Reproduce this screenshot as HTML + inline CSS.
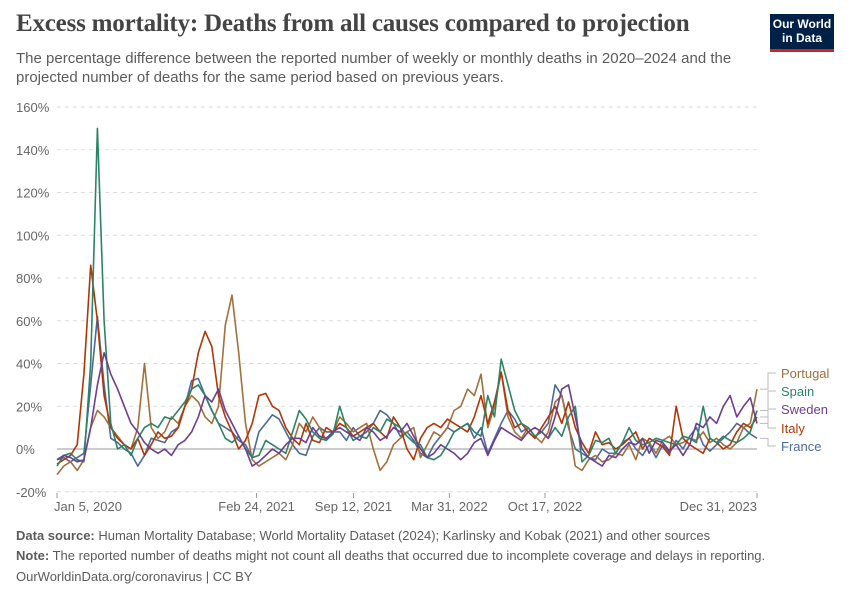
<!DOCTYPE html>
<html><head><meta charset="utf-8"><style>
body{margin:0;background:#fff;font-family:"Liberation Sans",sans-serif;}
#wrap{position:relative;width:850px;height:600px;overflow:hidden;}
</style></head><body>
<div id="wrap">
<div style="position:absolute;left:16px;top:10px;font-family:'Liberation Serif',serif;font-size:25px;color:#444;font-weight:bold;letter-spacing:-0.2px">Excess mortality: Deaths from all causes compared to projection</div>
<div style="position:absolute;left:16px;top:49px;width:740px;font-size:15px;line-height:19px;color:#5b5b5b">The percentage difference between the reported number of weekly or monthly deaths in 2020–2024 and the projected number of deaths for the same period based on previous years.</div>
<div style="position:absolute;left:770px;top:14px;width:64px;height:38px;background:#002147;border-bottom:3px solid #ce261e;color:#fff;font-size:12px;line-height:14px;text-align:center;padding-top:3px;box-sizing:border-box;font-weight:bold">Our World<br>in Data</div>
<svg id="chart" width="850" height="600" style="position:absolute;left:0;top:0"></svg>
<div style="position:absolute;left:16px;top:528px;font-size:13px;color:#5b5b5b"><b>Data source:</b> Human Mortality Database; World Mortality Dataset (2024); Karlinsky and Kobak (2021) and other sources</div>
<div style="position:absolute;left:16px;top:548px;font-size:13px;color:#5b5b5b"><b>Note:</b> The reported number of deaths might not count all deaths that occurred due to incomplete coverage and delays in reporting.</div>
<div style="position:absolute;left:16px;top:569px;font-size:13px;color:#5b5b5b">OurWorldinData.org/coronavirus | CC BY</div>
</div>
<script>
const yTicks=[-20,0,20,40,60,80,100,120,140,160];
const xTickLabels=["Jan 5, 2020","Feb 24, 2021","Sep 12, 2021","Mar 31, 2022","Oct 17, 2022","Dec 31, 2023"];
const xTickWeeks=[0,59.3,88.1,116.6,145.0,208];
const seriesNames=["Portugal","Spain","Sweden","Italy","France"];
const portugal=[-12,-8,-6,-10,-5,10,18,15,10,6,2,0,10,40,10,5,8,15,12,20,25,22,15,12,20,58,72,45,12,-5,-8,-6,-4,-2,-5,2,12,8,15,10,4,8,15,12,8,10,12,0,-10,-6,2,5,8,10,-4,2,8,6,10,18,20,28,25,35,10,20,36,15,8,5,10,6,3,8,22,25,12,-8,-10,-5,-3,-6,-5,-2,-3,2,-5,5,3,-2,4,6,2,3,5,4,8,3,5,2,0,3,10,12,28];
const spain=[-8,-3,-2,-5,-6,40,150,60,12,0,2,-3,5,10,12,10,15,14,18,22,28,30,25,18,12,5,3,6,0,-4,-3,4,2,0,-2,8,18,14,8,5,4,7,20,10,4,6,5,10,8,14,12,10,6,3,2,-4,-5,-3,2,8,10,12,8,6,25,15,42,30,18,12,10,6,8,5,10,6,15,20,-6,-3,4,3,5,-2,3,10,4,2,3,5,4,3,2,6,5,3,20,5,3,6,4,3,5,8,18];
const sweden=[-5,-3,-4,-6,-5,10,30,45,35,28,20,12,8,3,0,-2,0,-3,2,4,8,15,25,22,28,18,12,6,0,-8,-6,-3,0,-2,2,5,5,3,10,6,5,8,10,8,6,4,10,8,4,6,10,8,12,6,0,-4,-2,2,0,-2,-5,-2,3,5,-3,4,10,8,6,4,8,10,8,5,15,28,30,15,0,-4,-6,-8,-3,-4,0,3,2,5,-2,4,3,-1,2,-3,2,12,10,15,12,20,25,15,20,24,12];
const italy=[-7,-5,-3,2,35,86,60,25,10,5,2,0,5,-3,2,8,5,6,10,20,28,45,55,48,25,15,8,0,4,12,25,26,20,18,10,5,2,12,4,3,10,8,12,10,6,8,10,12,8,5,15,10,0,-5,5,10,12,10,14,12,10,8,15,25,12,22,36,18,10,12,8,5,10,15,20,12,22,10,3,-2,8,2,3,0,2,5,8,0,5,3,1,-3,20,5,2,0,-2,5,3,0,2,8,12,10,15];
const france=[-5,-4,-6,-4,-2,30,62,30,5,3,0,-2,-8,-3,5,4,3,8,10,20,32,33,25,18,12,10,8,4,2,-4,8,12,16,14,8,2,-2,-3,6,10,8,8,8,4,10,6,8,12,18,16,12,6,8,4,-2,-4,2,6,10,8,10,12,5,10,-2,5,12,18,14,8,10,6,8,12,30,25,10,0,-2,-4,-5,0,-2,-2,3,5,0,-3,2,-4,2,-2,4,0,6,10,2,-1,2,5,8,12,10,7,5];
const seriesData=[portugal,spain,sweden,italy,france];
const colors=["#a2703c","#2b8465","#6d3e91","#b13507","#4c6a9c"];
const labelY=[377,395,413,432,450];

const NS="http://www.w3.org/2000/svg";
const svg=document.getElementById("chart");
const X0=57,X1=757,Y0=449,PER=42.75/20;
const yScale=v=>Y0-v*PER;
const xWeek=w=>X0+w*(X1-X0)/208;
function mk(t,a){const e=document.createElementNS(NS,t);for(const k in a)e.setAttribute(k,a[k]);svg.appendChild(e);return e;}
yTicks.forEach(t=>{
  const y=yScale(t);
  const l=mk("line",{x1:X0,x2:X1,y1:y,y2:y,stroke:t===0?"#999":"#ddd","stroke-dasharray":t===0?"":"4,4","stroke-width":1});
  
  
  const tx=mk("text",{x:16,y:y+5,"font-size":13,fill:"#666"});
  tx.textContent=t+"%";
  
  
});
xTickLabels.forEach((lab,i)=>{
  const x=xWeek(xTickWeeks[i]);
  const tk=mk("line",{x1:x,x2:x,y1:493,y2:498,stroke:"#999"});
  
  
  const tx=mk("text",{x:x,y:511,"font-size":13,fill:"#666","text-anchor":i===0?"start":(i===xTickLabels.length-1?"end":"middle")});
  if(i===0)tx.setAttribute("x",x-3);
  tx.textContent=lab;
  
  
});
const order=[4,0,3,1,2];
order.forEach(si=>{
  const d=seriesData[si];const n=d.length;
  const pts=d.map((v,i)=>xWeek(i*208/(n-1)).toFixed(1)+","+yScale(v).toFixed(1)).join(" ");
  const p=mk("polyline",{points:pts,fill:"none",stroke:colors[si],"stroke-width":1.6,"stroke-linejoin":"round"});
  
  
});
seriesNames.forEach((nm,si)=>{
  const d=seriesData[si];const ye=yScale(d[d.length-1]);const yl=labelY[si];
  const c=mk("polyline",{points:`760,${ye} 768,${ye} 768,${yl-4} 776,${yl-4}`,fill:"none",stroke:"#bbb","stroke-width":1});
  
  
  const t=mk("text",{x:781,y:yl+1,"font-size":13,fill:colors[si]});
  t.textContent=nm;
  
  
});
</script>
</body></html>
